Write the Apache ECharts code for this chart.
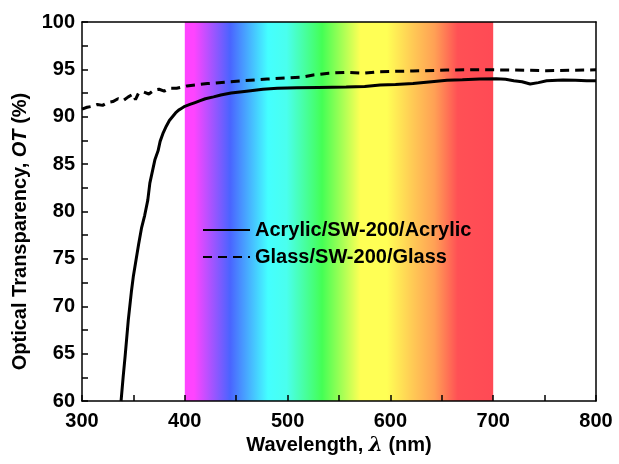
<!DOCTYPE html>
<html><head><meta charset="utf-8">
<script src="https://cdn.jsdelivr.net/npm/echarts@6/dist/echarts.min.js"></script>
<style>html,body{margin:0;padding:0;background:#fff}#c{width:619px;height:464px}</style>
</head><body><div id="c"></div>
<script>
const acrylicWl = [338,340,342,345,348,350,352,355,358,361,364,366,369,371,374,376,379,382,385,388,391,394,397,400,405,410,415,420,428,435,445,460,476,490,509,530,557,575,590,605,622,640,655,670,687,703,712,720,728,736,744,752,768,780,791,800];
const acrylicOT = [60,62.5,64.8,68.5,71.5,73.2,74.5,76.5,78.3,79.6,81.2,83.0,84.5,85.5,86.4,87.4,88.3,89.0,89.6,90.0,90.4,90.7,90.9,91.1,91.3,91.5,91.7,91.9,92.1,92.3,92.5,92.7,92.9,93.0,93.05,93.1,93.15,93.2,93.35,93.4,93.5,93.7,93.85,93.9,93.98,94.0,93.95,93.8,93.7,93.45,93.6,93.8,93.88,93.85,93.8,93.8];
const glassWl = [300,305,310,315,320,325,330,335,340,345,350,352,355,360,365,370,375,380,385,392,402,422,444,480,500,515,525,540,557,575,590,622,655,687,720,752,791,800];
const glassOT = [90.8,91.0,91.1,91.3,91.2,91.5,91.6,91.9,91.7,92.1,92.4,91.8,92.5,92.6,92.4,92.8,92.9,92.7,93.0,93.0,93.25,93.5,93.7,93.98,94.1,94.2,94.41,94.6,94.69,94.6,94.76,94.83,94.93,94.97,94.93,94.86,94.93,94.95];
const xTicks = [300,400,500,600,700,800];
const yTicks = [60,65,70,75,80,85,90,95,100];
const bandRange = [400,700];
const seriesNames = ['Acrylic/SW-200/Acrylic','Glass/SW-200/Glass'];

const font = 'Arial, "Liberation Sans", sans-serif';
const chart = echarts.init(document.getElementById('c'));
const zip = (a,b)=>a.map((v,i)=>[v,b[i]]);
chart.setOption({
  animation:false,
  grid:{left:82,right:23,top:22,bottom:63},
  legend:{
    left:197, top:215, orient:'vertical', itemWidth:47, itemHeight:14, itemGap:7,
    itemStyle:{opacity:0},
    textStyle:{fontFamily:font,fontWeight:'bold',fontSize:20,color:'#000'},
    data:seriesNames
  },
  xAxis:[{
    type:'value', min:xTicks[0], max:xTicks[xTicks.length-1], interval:100, z:10,
    name:'Wavelength, {i|λ} (nm)', nameLocation:'middle', nameGap:30,
    nameTextStyle:{fontFamily:font,fontWeight:'bold',fontSize:20,color:'#000',
      rich:{i:{fontFamily:'"DejaVu Serif", serif',fontStyle:'italic',fontSize:20,color:'#000'}}},
    axisLine:{show:true,onZero:false,lineStyle:{color:'#000',width:1.5}},
    axisTick:{show:true,inside:true,length:6,lineStyle:{color:'#000',width:1.5}},
    minorTick:{show:true,splitNumber:2,length:6,lineStyle:{color:'#000',width:1.5}},
    axisLabel:{fontFamily:font,fontWeight:'bold',fontSize:20,color:'#000',margin:10},
    splitLine:{show:false}
  },{
    type:'value', position:'top', min:300, max:800, z:10,
    axisLine:{show:true,lineStyle:{color:'#000',width:1.5}},
    axisTick:{show:false}, axisLabel:{show:false}, splitLine:{show:false}
  }],
  yAxis:[{
    type:'value', min:yTicks[0], max:yTicks[yTicks.length-1], interval:5, z:10,
    name:'Optical Transparency, {i|OT} (%)', nameLocation:'middle', nameGap:50,
    nameTextStyle:{fontFamily:font,fontWeight:'bold',fontSize:20,color:'#000',padding:[0,40,0,0],
      rich:{i:{fontFamily:font,fontStyle:'italic',fontWeight:'bold',fontSize:20,color:'#000'}}},
    axisLine:{show:true,onZero:false,lineStyle:{color:'#000',width:1.5}},
    axisTick:{show:true,inside:true,length:6,lineStyle:{color:'#000',width:1.5}},
    minorTick:{show:true,splitNumber:2,length:6,lineStyle:{color:'#000',width:1.5}},
    axisLabel:{fontFamily:font,fontWeight:'bold',fontSize:20,color:'#000',margin:7},
    splitLine:{show:false}
  },{
    type:'value', position:'right', min:60, max:100, z:10,
    axisLine:{show:true,lineStyle:{color:'#000',width:1.5}},
    axisTick:{show:false}, axisLabel:{show:false}, splitLine:{show:false}
  }],
  series:[{
    name:seriesNames[0], type:'line', data:zip(acrylicWl,acrylicOT), symbol:'none', z:5,
    lineStyle:{color:'#000',width:3}, itemStyle:{color:'#000'},
    markArea:{silent:true, z:1,
      itemStyle:{color:new echarts.graphic.LinearGradient(0,0,1,0,[
        {offset:0,color:'#ff44ff'},{offset:0.03,color:'#ff44ff'},
        {offset:0.147,color:'#4a64ff'},{offset:0.27,color:'#44ffff'},
        {offset:0.33,color:'#4affee'},{offset:0.445,color:'#44ff55'},
        {offset:0.57,color:'#ffff55'},{offset:0.655,color:'#ffff55'},
        {offset:0.735,color:'#ffcc55'},{offset:0.81,color:'#ffa055'},
        {offset:0.885,color:'#ff5055'},{offset:1,color:'#ff4a55'}])},
      data:[[{xAxis:bandRange[0],yAxis:60},{xAxis:bandRange[1],yAxis:100}]]}
  },{
    name:seriesNames[1], type:'line', data:zip(glassWl,glassOT), symbol:'none', z:5,
    lineStyle:{color:'#000',width:3,type:[9,6]}, itemStyle:{color:'#000'}
  }]
});
</script></body></html>
